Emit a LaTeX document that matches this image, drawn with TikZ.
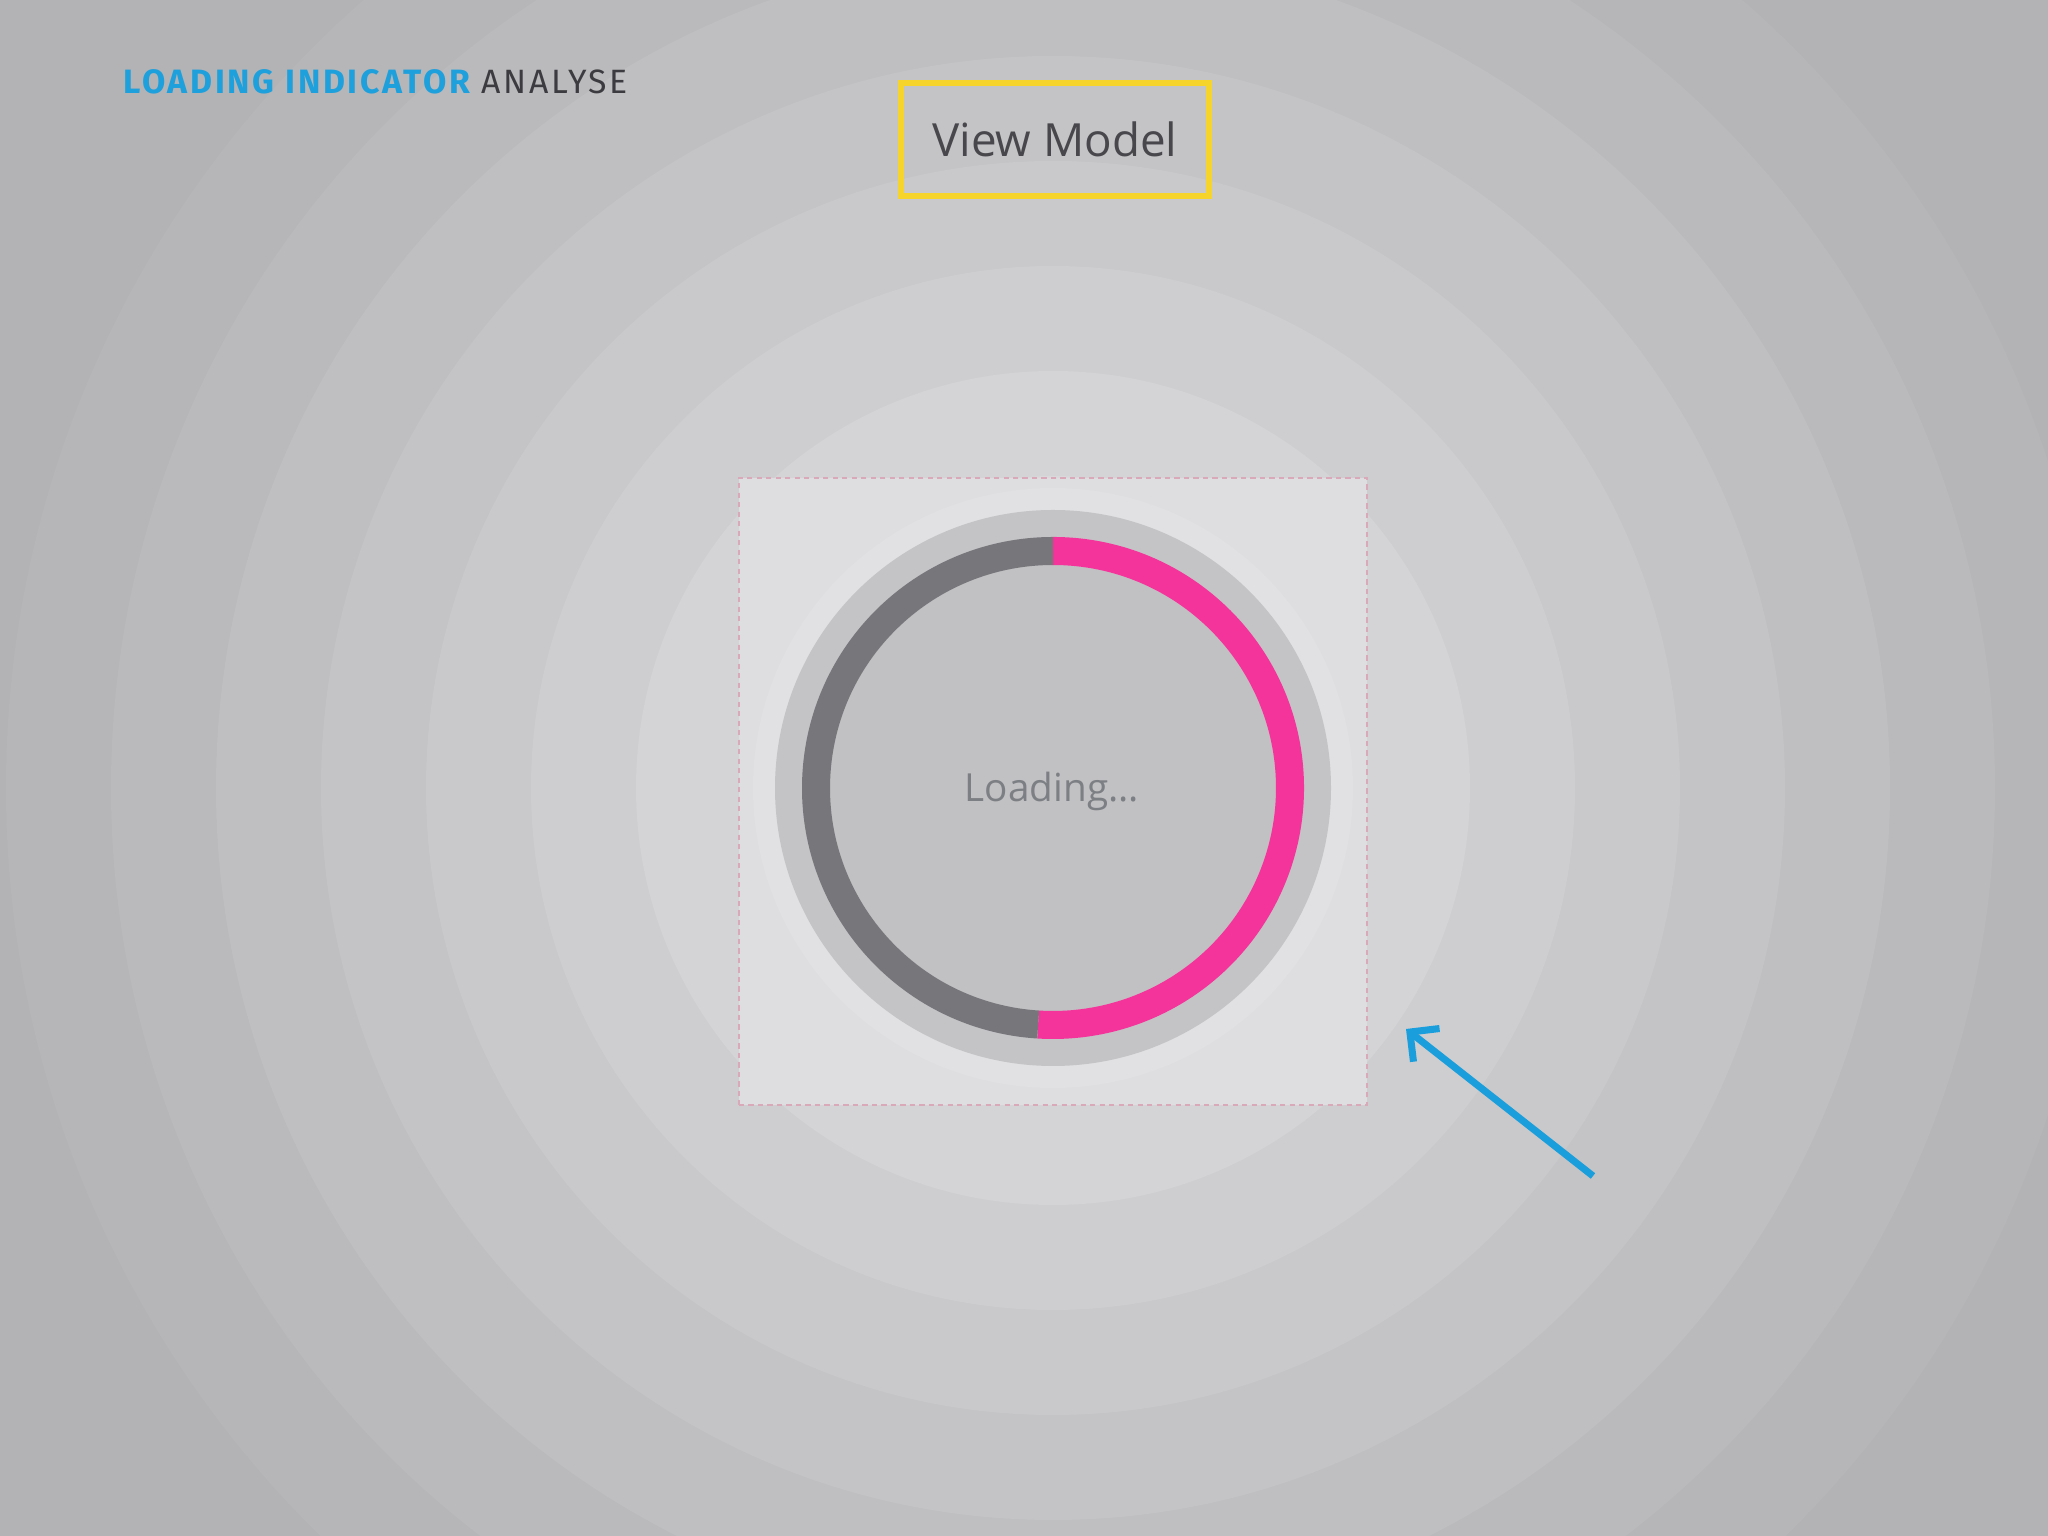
\documentclass[tikz,border=0pt]{standalone}
\usepackage{fontspec}
\usetikzlibrary{arrows.meta}
\setmainfont{Open Sans}
\newfontfamily\titlefont[LetterSpace=8]{Fira Sans}
\definecolor{bgA}{HTML}{B3B2B5}
\definecolor{bgB}{HTML}{B6B5B8}
\definecolor{bgC}{HTML}{BAB9BC}
\definecolor{bgD}{HTML}{BFBEC1}
\definecolor{bgE}{HTML}{C4C3C6}
\definecolor{bgF}{HTML}{C9C8CB}
\definecolor{bgG}{HTML}{CECDD0}
\definecolor{bgH}{HTML}{D4D3D6}
\definecolor{bgI}{HTML}{D9D8DB}
\definecolor{sqfill}{HTML}{DEDDE0}
\definecolor{halo}{HTML}{E1E1E3}
\definecolor{ringout}{HTML}{C4C3C6}
\definecolor{disc}{HTML}{C1C0C3}
\definecolor{arcpink}{HTML}{F4339B}
\definecolor{arcdark}{HTML}{77767A}
\definecolor{titleblue}{HTML}{1EA0DC}
\definecolor{titlegray}{HTML}{3C3C40}
\definecolor{vmyellow}{HTML}{F6D42C}
\definecolor{vmtext}{HTML}{48484C}
\definecolor{loadtext}{HTML}{7C7F83}
\definecolor{arrowblue}{HTML}{1A9FDC}
\definecolor{dashpink}{HTML}{D9A9BA}
\tikzset{
  vmbox/.style={draw=vmyellow, line width=1.7pt, minimum width=3.08cm, minimum height=1.13cm, inner sep=0pt, text=vmtext, font=\fontsize{13}{16}\selectfont},
  capture/.style={draw=dashpink, line width=0.55pt, dash pattern=on 1.5pt off 1.2pt, fill=sqfill, minimum width=6.28cm, minimum height=6.27cm, inner sep=0pt},
  ringarc/.style={line width=7.97pt, line cap=butt},
  pointer/.style={draw=arrowblue, line width=2pt, -{Straight Barb[length=6pt, width=12pt, line width=2pt]}}
}
\begin{document}
\begin{tikzpicture}[x=0.01cm, y=0.01cm]
\useasboundingbox (0,0) rectangle (2048,1536);
% background rings
\begin{scope}
\clip (0,0) rectangle (2048,1536);
\fill[bgA] (0,0) rectangle (2048,1536);
\coordinate (c) at (1053,748);
\fill[bgB] (c) circle[radius=1047];
\fill[bgC] (c) circle[radius=942];
\fill[bgD] (c) circle[radius=837];
\fill[bgE] (c) circle[radius=732];
\fill[bgF] (c) circle[radius=627];
\fill[bgG] (c) circle[radius=522];
\fill[bgH] (c) circle[radius=417];
\fill[bgI] (c) circle[radius=312];
\end{scope}
% title
\node[anchor=base west, inner sep=0pt, font=\titlefont\fontsize{9.6}{12}\selectfont] (title) at (123,1442)
  {\textcolor{titleblue}{\bfseries LOADING INDICATOR} \textcolor{titlegray}{ANALYSE}};
% view model box
\node[vmbox] (vm) at (1055,1396.5) {View Model};
% captured indicator
\node[capture] (sq) at (1053,744.5) {};
\fill[halo] (c) circle[radius=300];
\fill[ringout] (c) circle[radius=278];
\fill[disc] (c) circle[radius=223];
\draw[ringarc, arcpink] (c) ++(90:237) arc[start angle=90, end angle=-93.6, radius=237];
\draw[ringarc, arcdark] (c) ++(-93.6:237) arc[start angle=-93.6, end angle=-270, radius=237];
\node[anchor=base, inner sep=0pt, text=loadtext, font=\fontsize{11}{14}\selectfont] (load) at (1052,734) {Loading...};
% arrow
\coordinate (tail) at (1593,360);
\coordinate (tip) at (1406,507);
\draw[pointer] (tail) -- (tip);
\end{tikzpicture}
\end{document}
